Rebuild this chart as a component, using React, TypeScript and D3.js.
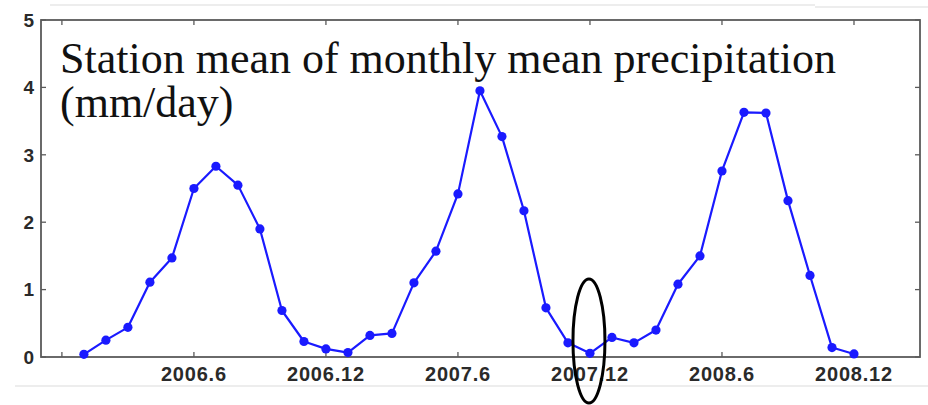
import React, { useEffect, useRef } from "react";
import * as d3 from "d3";

// Month index: 0 = Dec 2005, 1 = Jan 2006, ... 36 = Dec 2008
const months: number[] = [
  1, 2, 3, 4, 5, 6, 7, 8, 9, 10, 11, 12,
  13, 14, 15, 16, 17, 18, 19, 20, 21, 22, 23, 24,
  25, 26, 27, 28, 29, 30, 31, 32, 33, 34, 35, 36,
];

// Station mean of monthly mean precipitation (mm/day)
const precip: number[] = [
  0.04, 0.25, 0.44, 1.11, 1.47, 2.5, 2.83, 2.55, 1.9, 0.69, 0.23, 0.12,
  0.065, 0.32, 0.35, 1.1, 1.57, 2.42, 3.95, 3.27, 2.17, 0.73, 0.21, 0.055,
  0.29, 0.21, 0.4, 1.08, 1.5, 2.76, 3.63, 3.62, 2.32, 1.21, 0.14, 0.045,
];

const xTickValues: number[] = [0, 6, 12, 18, 24, 30, 36];
const xTickLabels: string[] = ["", "2006.6", "2006.12", "2007.6", "2007.12", "2008.6", "2008.12"];
const yTickValues: number[] = [0, 1, 2, 3, 4, 5];

const titleLines: string[] = ["Station mean of monthly mean precipitation", "(mm/day)"];

// Month that is circled on the chart
const highlightMonth = 24;

const W = 928;
const H = 405;
const M = { left: 41, right: 8, top: 20, bottom: 48 };

export default function App() {
  const ref = useRef<SVGSVGElement | null>(null);

  useEffect(() => {
    const svg = d3.select(ref.current);
    svg.selectAll("*").remove();

    const x = d3.scaleLinear().domain([-0.95, 39]).range([M.left, W - M.right]);
    const y = d3.scaleLinear().domain([0, 5]).range([H - M.bottom, M.top]);

    const axisColor = "#5a5a5a";
    const tickFont = "'Liberation Sans', Arial, sans-serif";

    // faint separator rules around the figure
    svg.append("line").attr("x1", 50).attr("x2", 815).attr("y1", 5).attr("y2", 5)
      .attr("stroke", "#dcdcdc").attr("stroke-width", 1.2);
    svg.append("line").attr("x1", 815).attr("x2", W).attr("y1", 7).attr("y2", 7)
      .attr("stroke", "#dcdcdc").attr("stroke-width", 1.2);
    svg.append("line").attr("x1", 15).attr("x2", W).attr("y1", 386).attr("y2", 386)
      .attr("stroke", "#dcdcdc").attr("stroke-width", 1.2);

    const [x0, x1] = x.range();
    const [y0, y1] = y.range();

    // ticks (inward on all four sides)
    const tl = 5;
    const g = svg.append("g").attr("stroke", axisColor).attr("stroke-width", 1.3);
    xTickValues.forEach((v) => {
      g.append("line").attr("x1", x(v)).attr("x2", x(v)).attr("y1", y0).attr("y2", y0 - tl);
      g.append("line").attr("x1", x(v)).attr("x2", x(v)).attr("y1", y1).attr("y2", y1 + tl);
    });
    yTickValues.forEach((v) => {
      g.append("line").attr("x1", x0).attr("x2", x0 + tl).attr("y1", y(v)).attr("y2", y(v));
      g.append("line").attr("x1", x1).attr("x2", x1 - tl).attr("y1", y(v)).attr("y2", y(v));
    });

    // axes box
    svg.append("rect")
      .attr("x", x0).attr("y", y1)
      .attr("width", x1 - x0).attr("height", y0 - y1)
      .attr("fill", "none").attr("stroke", axisColor).attr("stroke-width", 1.8);

    // tick labels
    svg.append("g").selectAll("text").data(yTickValues).join("text")
      .attr("x", 34).attr("y", (d) => y(d)).attr("dy", "0.36em")
      .attr("text-anchor", "end")
      .attr("font-family", tickFont).attr("font-size", 19).attr("font-weight", 600)
      .attr("fill", "#2a2a2a")
      .text((d) => String(d));

    svg.append("g").selectAll("text").data(xTickValues).join("text")
      .attr("x", (d) => x(d)).attr("y", 381)
      .attr("text-anchor", "middle")
      .attr("font-family", tickFont).attr("font-size", 20).attr("font-weight", 600)
      .attr("letter-spacing", 0.8)
      .attr("fill", "#2a2a2a")
      .text((_, i) => xTickLabels[i]);

    // title inside the axes
    const title = svg.append("text")
      .attr("font-family", "'Liberation Serif', 'Times New Roman', serif")
      .attr("font-size", 44).attr("fill", "#111");
    titleLines.forEach((t, i) => {
      title.append("tspan").attr("x", 60).attr("y", i === 0 ? 73 : 117).text(t);
    });

    // series
    const pts = months.map((m, i) => [m, precip[i]] as [number, number]);
    const line = d3.line<[number, number]>().x((d) => x(d[0])).y((d) => y(d[1]));
    svg.append("path").datum(pts)
      .attr("d", line)
      .attr("fill", "none").attr("stroke", "#1a1aff").attr("stroke-width", 2.2)
      .attr("stroke-linejoin", "round");
    svg.append("g").selectAll("circle").data(pts).join("circle")
      .attr("cx", (d) => x(d[0])).attr("cy", (d) => y(d[1])).attr("r", 4.6)
      .attr("fill", "#1a1aff");

    // highlight ellipse around the December 2007 minimum
    svg.append("ellipse")
      .attr("cx", x(highlightMonth) - 1).attr("cy", 341)
      .attr("rx", 16).attr("ry", 62)
      .attr("fill", "none").attr("stroke", "#000").attr("stroke-width", 3);
  }, []);

  return (
    <svg
      ref={ref}
      width={W}
      height={H}
      style={{ position: "absolute", left: 0, top: 0, background: "#fff" }}
    />
  );
}
